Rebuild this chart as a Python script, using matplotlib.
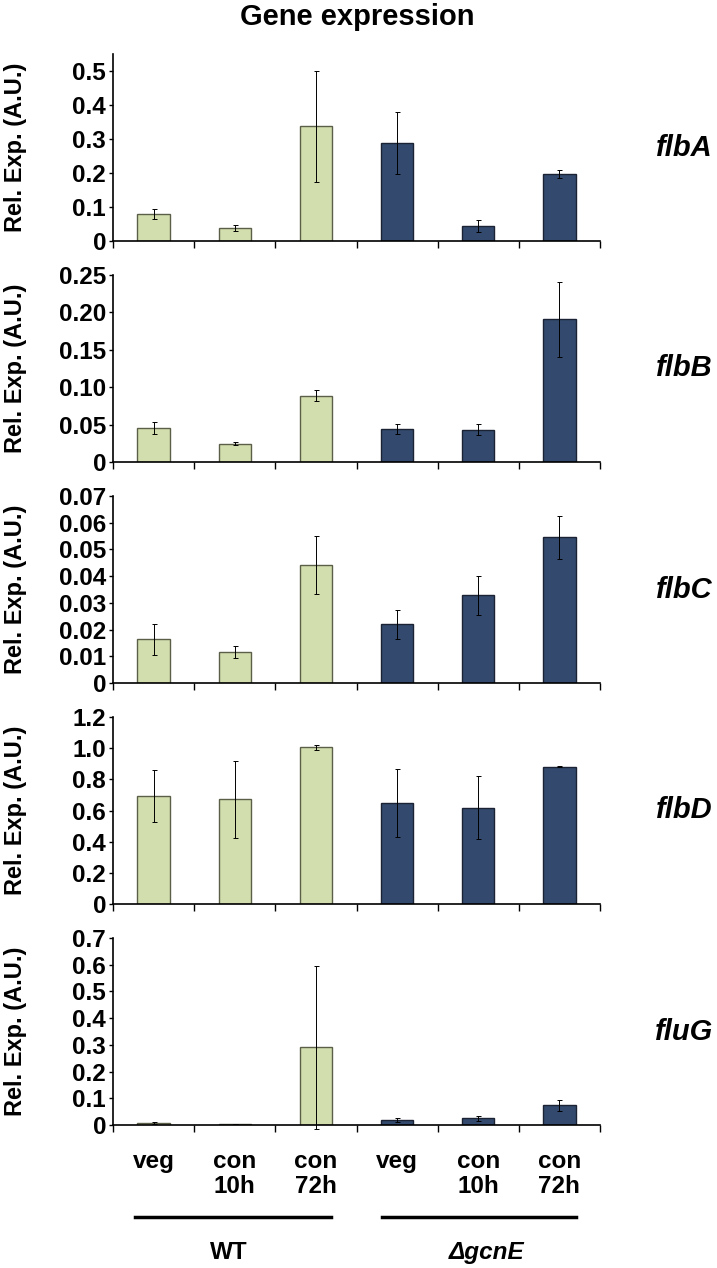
import numpy as np
import matplotlib.pyplot as plt

plt.rcParams['font.family'] = ['Liberation Sans', 'DejaVu Sans']
plt.rcParams['font.weight'] = 'bold'

# data: WT veg, con10h, con72h, then gcnE veg, con10h, con72h
genes = ["flbA", "flbB", "flbC", "flbD", "fluG"]

flbA_val = [0.080, 0.037, 0.338, 0.289, 0.044, 0.198]
flbA_err = [0.015, 0.009, 0.163, 0.091, 0.017, 0.012]

flbB_val = [0.0453, 0.0242, 0.0888, 0.0444, 0.0430, 0.191]
flbB_err = [0.0085, 0.0020, 0.0074, 0.0070, 0.0074, 0.050]

flbC_val = [0.0163, 0.0115, 0.0441, 0.0219, 0.0328, 0.0546]
flbC_err = [0.0058, 0.0022, 0.0109, 0.0053, 0.0072, 0.0080]

flbD_val = [0.695, 0.672, 1.005, 0.648, 0.618, 0.881]
flbD_err = [0.168, 0.246, 0.018, 0.220, 0.204, 0.004]

fluG_val = [0.0075, 0.004, 0.291, 0.0187, 0.025, 0.073]
fluG_err = [0.002, 0.001, 0.305, 0.0065, 0.009, 0.019]

values = [flbA_val, flbB_val, flbC_val, flbD_val, fluG_val]
errors = [flbA_err, flbB_err, flbC_err, flbD_err, fluG_err]

ylims = [0.55, 0.25, 0.07, 1.2, 0.7]
yticks = [
    [0, 0.1, 0.2, 0.3, 0.4, 0.5],
    [0, 0.05, 0.10, 0.15, 0.20, 0.25],
    [0, 0.01, 0.02, 0.03, 0.04, 0.05, 0.06, 0.07],
    [0, 0.2, 0.4, 0.6, 0.8, 1.0, 1.2],
    [0, 0.1, 0.2, 0.3, 0.4, 0.5, 0.6, 0.7],
]
ytick_labels = [
    ["0", "0.1", "0.2", "0.3", "0.4", "0.5"],
    ["0", "0.05", "0.10", "0.15", "0.20", "0.25"],
    ["0", "0.01", "0.02", "0.03", "0.04", "0.05", "0.06", "0.07"],
    ["0", "0.2", "0.4", "0.6", "0.8", "1.0", "1.2"],
    ["0", "0.1", "0.2", "0.3", "0.4", "0.5", "0.6", "0.7"],
]

conditions = ["veg", "con\n10h", "con\n72h", "veg", "con\n10h", "con\n72h"]
groups = ["WT", "ΔgcnE"]

green = "#d3deae"
green_edge = "#5c5f48"
navy = "#334a6e"
navy_edge = "#1a2233"
colors = [green] * 3 + [navy] * 3
edges = [green_edge] * 3 + [navy_edge] * 3

W, H = 717, 1268
fig = plt.figure(figsize=(W / 100, H / 100), dpi=100)

left = 113 / W
width = 487 / W
height = 187 / H
zeros = [241, 462, 683, 904, 1125]

x = np.arange(6) + 0.5

for i, gene in enumerate(genes):
    ax = fig.add_axes([left, (H - zeros[i]) / H, width, height])
    ax.bar(x, values[i], width=0.40, color=colors, edgecolor=edges, linewidth=1.0, zorder=2)
    eb = ax.errorbar(x, values[i], yerr=errors[i], fmt="none", ecolor="black",
                     elinewidth=0.7, capsize=1.8, capthick=0.7, zorder=3)
    for art in eb.lines[1] + eb.lines[2]:
        art.set_clip_on(False)

    ax.set_xlim(0, 6)
    ax.set_ylim(0, ylims[i])
    ax.set_yticks(yticks[i])
    ax.set_yticklabels(ytick_labels[i], fontsize=17.5, fontweight="bold")
    ax.set_xticks(np.arange(7))
    ax.set_xticklabels([])
    ax.tick_params(axis="y", length=3, width=1, pad=2)
    ax.tick_params(axis="x", which="major", length=5, width=1)

    for s in ["top", "right"]:
        ax.spines[s].set_visible(False)
    ax.spines["left"].set_linewidth(1.2)
    ax.spines["bottom"].set_linewidth(1.2)

    ax.set_ylabel("Rel. Exp. (A.U.)", fontsize=17, fontweight="bold", va="center")
    ax.yaxis.set_label_coords(-0.2, 0.5)

    ax.text(1.232, 0.5, gene, transform=ax.transAxes, ha="right", va="center",
            fontsize=21, fontweight="bold", style="italic")

# condition labels under the last panel
ax.set_xticks(x, minor=True)
ax.set_xticklabels(conditions, minor=True, fontsize=17.5, fontweight="bold",
                   va="top", linespacing=1.1)
ax.tick_params(axis="x", which="minor", length=0, pad=18)

# group bars and names
ax.plot([0.27, 2.68], [-0.49, -0.49], color="black", lw=2.5,
        transform=ax.get_xaxis_transform(), clip_on=False)
ax.plot([3.31, 5.71], [-0.49, -0.49], color="black", lw=2.5,
        transform=ax.get_xaxis_transform(), clip_on=False)
ax.text(1.43, -0.68, groups[0], transform=ax.get_xaxis_transform(),
        ha="center", va="center", fontsize=17.5, fontweight="bold")
ax.text(4.6, -0.68, groups[1], transform=ax.get_xaxis_transform(),
        ha="center", va="center", fontsize=17.5, fontweight="bold", style="italic")

fig.text(357 / W, 1 - 17 / H, "Gene expression", ha="center", va="center",
         fontsize=21, fontweight="bold")

fig.savefig("out.png", dpi=100)
